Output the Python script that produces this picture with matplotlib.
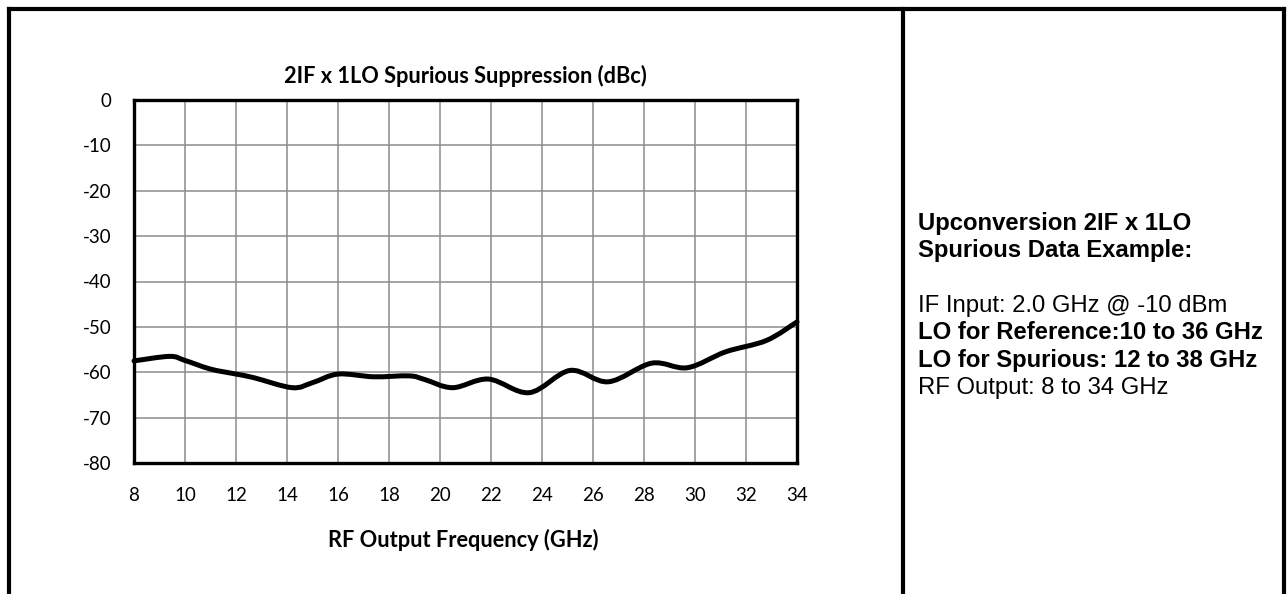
import matplotlib
matplotlib.use("Agg")
import matplotlib.pyplot as plt
from matplotlib.path import Path
from matplotlib.patches import PathPatch
from matplotlib.lines import Line2D
import numpy as np

# ---- data ----
freq_ghz = [8, 9.4, 10, 11, 12, 12.7, 14.2, 15, 16, 17.4, 18.8, 19.4, 20.5,
            21.9, 23.5, 25.1, 26.6, 28.3, 29.7, 31.2, 32.8, 34]
suppression_dbc = [-57.5, -56.5, -57.4, -59.3, -60.4, -61.2, -63.4, -62.3, -60.4,
                   -61.0, -60.8, -61.6, -63.4, -61.5, -64.5, -59.6, -62.1, -58.0,
                   -59.0, -55.5, -53.0, -48.9]
x_ticks = [8, 10, 12, 14, 16, 18, 20, 22, 24, 26, 28, 30, 32, 34]
y_ticks = [0, -10, -20, -30, -40, -50, -60, -70, -80]
chart_title = "2IF x 1LO Spurious Suppression (dBc)"
x_label = "RF Output Frequency (GHz)"
note_lines = [
    ("Upconversion 2IF x 1LO", "bold"),
    ("Spurious Data Example:", "bold"),
    ("", "normal"),
    ("IF Input: 2.0 GHz @ -10 dBm", "normal"),
    ("LO for Reference:10 to 36 GHz", "bold"),
    ("LO for Spurious: 12 to 38 GHz", "bold"),
    ("RF Output: 8 to 34 GHz", "normal"),
]

W, H = 1287, 594
fig = plt.figure(figsize=(W / 100, H / 100), dpi=100)
fig.patch.set_facecolor("white")

chart_font = ["Lato", "DejaVu Sans"]
note_font = ["Liberation Sans", "DejaVu Sans"]

# ---- axes ----
ax_l, ax_r, ax_t, ax_b = 134, 797, 100, 463
ax = fig.add_axes([ax_l / W, 1 - ax_b / H, (ax_r - ax_l) / W, (ax_b - ax_t) / H])
ax.set_xlim(x_ticks[0], x_ticks[-1])
ax.set_ylim(y_ticks[-1], y_ticks[0])
ax.set_xticks(x_ticks)
ax.set_yticks(y_ticks)
ax.set_xticklabels([str(v) for v in x_ticks], fontfamily=chart_font, fontsize=13.5)
ax.set_yticklabels([str(v) for v in y_ticks], fontfamily=chart_font, fontsize=13.5)
ax.tick_params(axis="both", length=0, colors="black")
ax.tick_params(axis="y", pad=16)
ax.tick_params(axis="x", pad=17)
ax.grid(True, color="#8c8c8c", linewidth=1.1)
ax.set_axisbelow(True)
for s in ax.spines.values():
    s.set_linewidth(2.4)
    s.set_color("black")

# smoothed line (Excel-like Bezier through the read points)
x = np.asarray(freq_ghz, float)
y = np.asarray(suppression_dbc, float)
n = len(x)
verts = [(x[0], y[0])]
codes = [Path.MOVETO]
for i in range(n - 1):
    p0 = (x[i - 1], y[i - 1]) if i > 0 else (x[i], y[i])
    p1 = (x[i], y[i])
    p2 = (x[i + 1], y[i + 1])
    p3 = (x[i + 2], y[i + 2]) if i + 2 < n else (x[i + 1], y[i + 1])
    c1 = (p1[0] + (p2[0] - p0[0]) / 6, p1[1] + (p2[1] - p0[1]) / 6)
    c2 = (p2[0] - (p3[0] - p1[0]) / 6, p2[1] - (p3[1] - p1[1]) / 6)
    verts += [c1, c2, p2]
    codes += [Path.CURVE4] * 3
ax.add_patch(PathPatch(Path(verts, codes), facecolor="none", edgecolor="black",
                       linewidth=3.6, capstyle="round", joinstyle="round",
                       clip_on=False, zorder=3))

# titles
fig.text(465 / W, 1 - 76 / H, chart_title, ha="center", va="center",
         fontfamily=chart_font, fontweight="bold", fontsize=15.7)
fig.text(463 / W, 1 - 540 / H, x_label, ha="center", va="center",
         fontfamily=chart_font, fontweight="bold", fontsize=15.7)

# ---- note panel ----
baseline0 = 230
pitch = 27.3
for k, (txt, wt) in enumerate(note_lines):
    if txt:
        fig.text(918 / W, 1 - (baseline0 + k * pitch) / H, txt, ha="left",
                 va="baseline", fontfamily=note_font, fontweight=wt, fontsize=17.2)

# ---- outer frame ----
lw_frame = 3.0
def fline(x0, y0, x1, y1):
    fig.add_artist(Line2D([x0 / W, x1 / W], [1 - y0 / H, 1 - y1 / H],
                          color="black", linewidth=lw_frame,
                          transform=fig.transFigure, solid_capstyle="projecting"))
fline(9, 9, 1284, 9)
fline(9, 9, 9, 600)
fline(903, 9, 903, 600)
fline(1284, 9, 1284, 600)

fig.savefig("out.png", dpi=100, facecolor="white")
